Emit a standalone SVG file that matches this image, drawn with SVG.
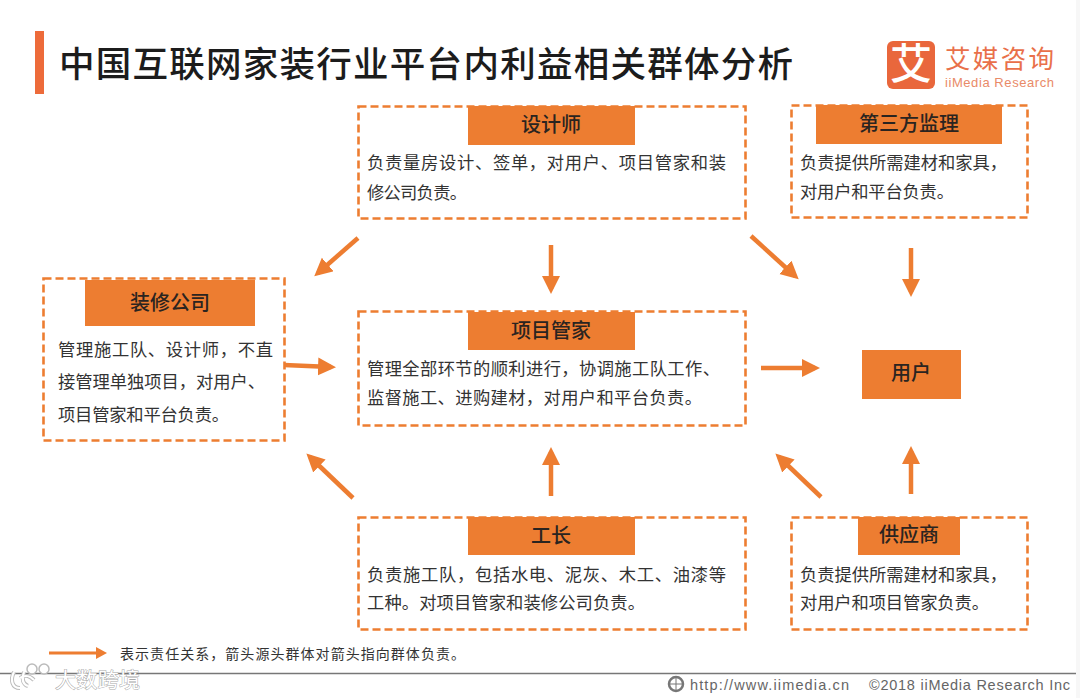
<svg xmlns="http://www.w3.org/2000/svg" width="1080" height="698" viewBox="0 0 1080 698">
<style>
text{font-family:"Liberation Sans","Noto Sans CJK SC",sans-serif}
.cjk{font-family:"Noto Sans CJK SC",sans-serif}
.box{fill:#fff;stroke:#ed7d31;stroke-width:2.6;stroke-dasharray:8 4}
.hd{fill:#ed7d31}
.ht{font-family:"Noto Sans CJK SC",sans-serif;font-size:20px;font-weight:500;fill:#2a2420;text-anchor:middle}
.bt{font-family:"Noto Sans CJK SC",sans-serif;font-size:17.300px;fill:#333}
.conn{stroke:#ed7d31;stroke-width:4.5;fill:none;marker-end:url(#ah)}
</style>
<defs>
<marker id="ah" markerUnits="userSpaceOnUse" markerWidth="20" markerHeight="20" refX="13" refY="9" orient="auto"><path d="M0 0L18 9L0 18z" fill="#ed7d31"/></marker>
</defs>
<rect width="1080" height="698" fill="#fff"/>
<rect x="1076" width="4" height="698" fill="#f7f7f7"/>
<g id="title">
<rect x="35" y="31" width="9" height="63" fill="#ed6b3a"/>
<text class="cjk" x="59" y="77" font-size="35.500" font-weight="500" fill="#1c1c1c" textLength="734" lengthAdjust="spacing">中国互联网家装行业平台内利益相关群体分析</text>
</g>
<g id="logo">
<rect x="887" y="41" width="48" height="48" rx="6" fill="#e9673c"/>
<text class="cjk" x="911" y="79" font-size="42" font-weight="500" fill="#fff" text-anchor="middle">艾</text>
<text class="cjk" x="945" y="68" font-size="25.500" fill="#e9704a" textLength="109">艾媒咨询</text>
<text x="945" y="87" font-size="13" fill="#e98a68" textLength="109">iiMedia Research</text>
</g>
<g id="connectors">
<path class="conn" d="M358 238L318 273"/>
<path class="conn" d="M551 245V289"/>
<path class="conn" d="M751 236L795 276"/>
<path class="conn" d="M911 248V292"/>
<path class="conn" d="M284 365L331 367"/>
<path class="conn" d="M761 368H815"/>
<path class="conn" d="M353 498L310 457"/>
<path class="conn" d="M551 496V452"/>
<path class="conn" d="M821 497L779 457"/>
<path class="conn" d="M911 494V451"/>
</g>
<g id="designer">
<rect class="box" x="358.500" y="106.500" width="387" height="112"/>
<rect class="hd" x="468" y="106" width="167" height="39"/>
<text class="ht" x="551" y="132">设计师</text>
<text class="bt" x="367" y="169" textLength="359">负责量房设计、签单，对用户、项目管家和装</text>
<text class="bt" x="367" y="199" textLength="100">修公司负责。</text>
</g>
<g id="supervisor">
<rect class="box" x="791.500" y="105.500" width="236" height="112"/>
<rect class="hd" x="816" y="105" width="186" height="39"/>
<text class="ht" x="909" y="131">第三方监理</text>
<text class="bt" x="800" y="169" textLength="207">负责提供所需建材和家具，</text>
<text class="bt" x="800" y="198" textLength="154">对用户和平台负责。</text>
</g>
<g id="company">
<rect class="box" x="43.500" y="278.500" width="241" height="162"/>
<rect class="hd" x="85" y="280" width="170" height="46"/>
<text class="ht" x="170" y="310">装修公司</text>
<text class="bt" x="58" y="356" textLength="215">管理施工队、设计师，不直</text>
<text class="bt" x="58" y="388" textLength="207">接管理单独项目，对用户、</text>
<text class="bt" x="58" y="421" textLength="171">项目管家和平台负责。</text>
</g>
<g id="manager">
<rect class="box" x="358.500" y="311.500" width="387" height="114"/>
<rect class="hd" x="468" y="312" width="167" height="38"/>
<text class="ht" x="551" y="338">项目管家</text>
<text class="bt" x="367" y="375" textLength="353">管理全部环节的顺利进行，协调施工队工作、</text>
<text class="bt" x="367" y="404" textLength="335">监督施工、进购建材，对用户和平台负责。</text>
</g>
<g id="user">
<rect x="862" y="350" width="99" height="49" fill="#ed7d31"/>
<text class="ht" x="911" y="380">用户</text>
</g>
<g id="foreman">
<rect class="box" x="358.500" y="517.500" width="387" height="112"/>
<rect class="hd" x="468" y="517" width="167" height="38"/>
<text class="ht" x="551" y="543">工长</text>
<text class="bt" x="367" y="581" textLength="359">负责施工队，包括水电、泥灰、木工、油漆等</text>
<text class="bt" x="367" y="609" textLength="278">工种。对项目管家和装修公司负责。</text>
</g>
<g id="supplier">
<rect class="box" x="791.500" y="517.500" width="236" height="112"/>
<rect class="hd" x="858" y="517" width="102" height="38"/>
<text class="ht" x="909" y="542">供应商</text>
<text class="bt" x="800" y="581" textLength="207">负责提供所需建材和家具，</text>
<text class="bt" x="800" y="609" textLength="189">对用户和项目管家负责。</text>
</g>
<g id="legend">
<path d="M49 653H100" stroke="#ed7d31" stroke-width="3" fill="none"/>
<path d="M96 647L107 653L96 659z" fill="#ed7d31"/>
<text class="cjk" x="120" y="659" font-size="14" fill="#333" textLength="345">表示责任关系，箭头源头群体对箭头指向群体负责。</text>
</g>
<g id="footer">
<path d="M0 673.500H1076" stroke="#777" stroke-width="1.500"/>
<circle cx="676" cy="684" r="7" fill="none" stroke="#777" stroke-width="2.500"/>
<path d="M669 684H683M676 677V691" stroke="#777" stroke-width="1"/>
<text x="690" y="690" font-size="14.500" fill="#666" font-family="DejaVu Sans" textLength="159">http://www.iimedia.cn</text>
<text x="869" y="690" font-size="14.500" fill="#666" textLength="201">©2018  iiMedia Research  Inc</text>
</g>
<g id="watermark">
<text class="cjk" x="55" y="687" font-size="21" fill="#fff" stroke="#aaa" stroke-width="1" paint-order="stroke" textLength="85">大数跨境</text>
<path d="M14 672C10 680 12 688 20 688M24 672C22 678 22 684 28 686M20 678C26 674 30 676 34 680" fill="none" stroke="#bbb" stroke-width="4"/>
<path d="M14 672C10 680 12 688 20 688M24 672C22 678 22 684 28 686M20 678C26 674 30 676 34 680" fill="none" stroke="#fff" stroke-width="2.200"/>
<circle cx="32" cy="669" r="5" fill="#fff" stroke="#bbb" stroke-width="1.500"/>
<circle cx="44" cy="669" r="5" fill="#fff" stroke="#bbb" stroke-width="1.500"/>
</g>
</svg>
